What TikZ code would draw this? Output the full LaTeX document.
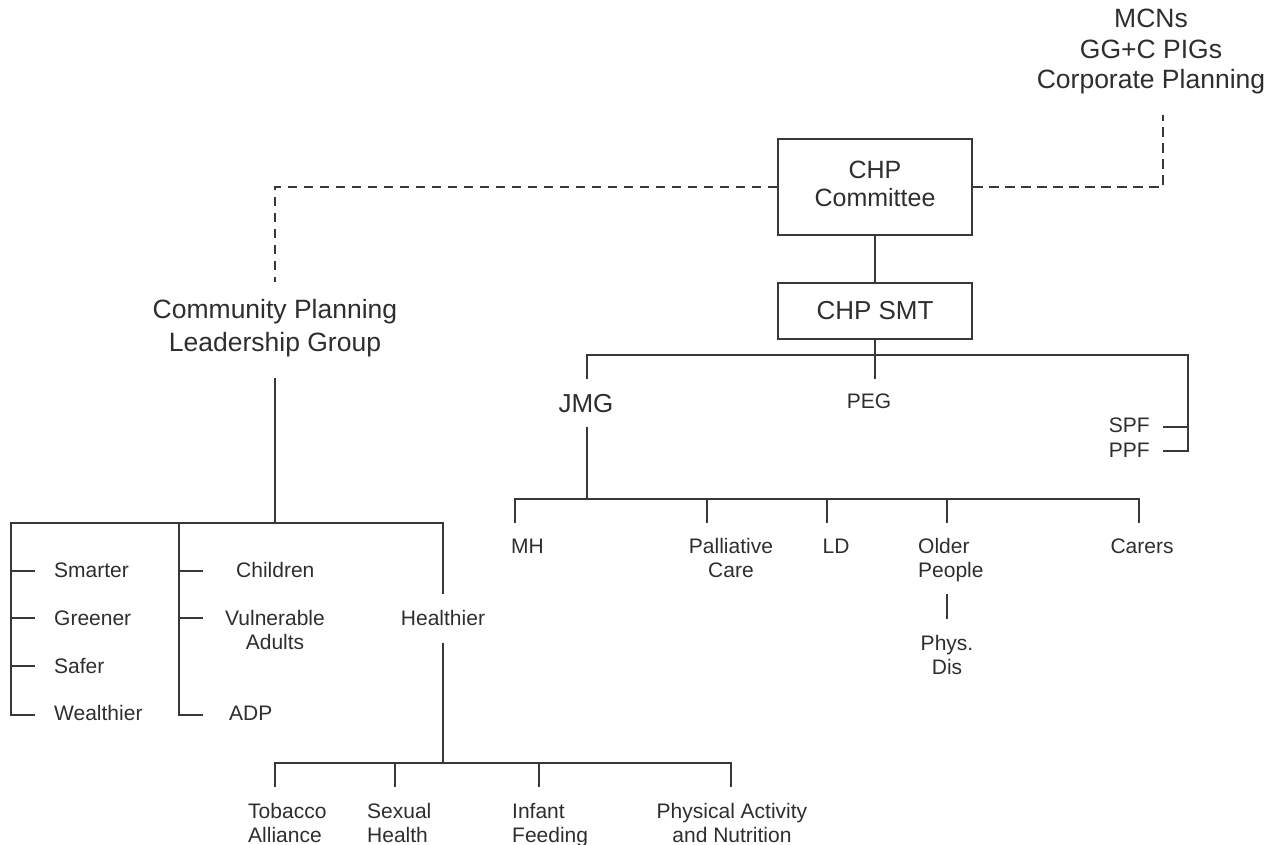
\documentclass[tikz,border=0pt]{standalone}
\usepackage{fontspec}
\setmainfont{Liberation Sans}
\definecolor{lc}{HTML}{383838}
\definecolor{tc}{HTML}{2E2E2E}
\newcommand{\mlc}[1]{\begin{tabular}[t]{@{}c@{}}#1\end{tabular}}
\newcommand{\mll}[1]{\begin{tabular}[t]{@{}l@{}}#1\end{tabular}}
\tikzset{
  ln/.style={draw=lc, line width=2pt},
  dsh/.style={draw=lc, line width=2pt, dash pattern=on 9.5pt off 6.5pt},
  big/.style={font=\fontsize{26.5}{30.5}\selectfont, text=tc, inner sep=0pt},
  sm/.style={font=\fontsize{21}{24}\selectfont, text=tc, inner sep=0pt},
  orgbox/.style={draw=lc, line width=2pt, text=tc, inner sep=0pt, minimum width=194pt}
}
\begin{document}
\begin{tikzpicture}[x=1pt,y=-1pt]
\useasboundingbox (0,0) rectangle (1283,845);

% boxes
\node[orgbox, minimum height=96pt, font=\fontsize{25}{28}\selectfont] (cttee) at (875,187) {\mlc{CHP\\Committee}};
\node[orgbox, minimum height=56pt, font=\fontsize{26}{30}\selectfont] (smt) at (875,311) {CHP SMT};

% big labels
\node[big, anchor=base] (mcn) at (1151,28) {\mlc{MCNs\\GG+C PIGs\\Corporate Planning}};
\node[big, anchor=base, font=\fontsize{26.5}{33.5}\selectfont] (cplg) at (275,318.3) {\mlc{Community Planning\\Leadership Group}};
\node[big, anchor=base, font=\fontsize{26}{30}\selectfont] (jmg) at (586,412.7) {JMG};

% right branch labels
\node[sm, anchor=base] (peg) at (869,408) {PEG};
\node[sm, anchor=base east] (spf) at (1150,432) {SPF};
\node[sm, anchor=base east] (ppf) at (1150,457) {PPF};
\node[sm, anchor=base west] (mh) at (511,553) {MH};
\node[sm, anchor=base] (pall) at (731,553) {\mlc{Palliative\\Care}};
\node[sm, anchor=base] (ld) at (836,553) {LD};
\node[sm, anchor=base west] (older) at (918,553) {\mll{Older\\People}};
\node[sm, anchor=base] (carers) at (1142,553) {Carers};
\node[sm, anchor=base] (phys) at (947,650) {\mlc{Phys.\\Dis}};

% left branch labels
\node[sm, anchor=base west] (smarter) at (54,577) {Smarter};
\node[sm, anchor=base west] (greener) at (54,625) {Greener};
\node[sm, anchor=base west] (safer) at (54,673) {Safer};
\node[sm, anchor=base west] (wealthier) at (54,720) {Wealthier};
\node[sm, anchor=base west] (children) at (236,577) {Children};
\node[sm, anchor=base] (vuln) at (275,625) {\mlc{Vulnerable\\Adults}};
\node[sm, anchor=base west] (adp) at (229,720) {ADP};
\node[sm, anchor=base] (healthier) at (443,625) {Healthier};
\node[sm, anchor=base west] (tobacco) at (248,818) {\mll{Tobacco\\Alliance}};
\node[sm, anchor=base west] (sexual) at (367,818) {\mll{Sexual\\Health}};
\node[sm, anchor=base west] (infant) at (512,818) {\mll{Infant\\Feeding}};
\node[sm, anchor=base] (pan) at (732,818) {\mlc{Physical Activity\\and Nutrition}};

% coordinates
\coordinate (cplgT) at (275,282);
\coordinate (mcnB) at (1163,115);
\coordinate (smtbus) at (875,355);
\coordinate (busL) at (587,355);
\coordinate (busR) at (1188,355);
\coordinate (jmgT) at (587,379);
\coordinate (pegT) at (875,379);
\coordinate (spfL) at (1163,427);
\coordinate (spfJ) at (1188,427);
\coordinate (ppfL) at (1163,451);
\coordinate (jmgB) at (587,427);
\coordinate (jmgJ) at (587,499);
\coordinate (mhJ) at (515,499);
\coordinate (mhT) at (515,523);
\coordinate (carJ) at (1139,499);
\coordinate (carT) at (1139,523);
\coordinate (palJ) at (707,499);
\coordinate (palT) at (707,523);
\coordinate (ldJ) at (827,499);
\coordinate (ldT) at (827,523);
\coordinate (oldJ) at (947,499);
\coordinate (oldT) at (947,523);
\coordinate (physT) at (947,594);
\coordinate (physB) at (947,619);
\coordinate (cplgB) at (275,378);
\coordinate (cplgJ) at (275,523);
\coordinate (lA) at (11,523);
\coordinate (lB) at (179,523);
\coordinate (lC) at (443,523);
\coordinate (hT) at (443,594);
\coordinate (hB) at (443,643);
\coordinate (hJ) at (443,763);
\coordinate (tobJ) at (275,763);
\coordinate (tobT) at (275,787);
\coordinate (sexJ) at (395,763);
\coordinate (sexT) at (395,787);
\coordinate (infJ) at (539,763);
\coordinate (infT) at (539,787);
\coordinate (panJ) at (731,763);
\coordinate (panT) at (731,787);

% dashed links
\draw[dsh] (cttee.west) -| (cplgT);
\draw[dsh] (cttee.east) -| (mcnB);

% CHP tree
\draw[ln] (cttee.south) -- (smt.north);
\draw[ln] (smt.south) -- (smtbus);
\draw[ln] (jmgT) -- (busL) -- (busR) |- (ppfL);
\draw[ln] (spfL) -- (spfJ);
\draw[ln] (smtbus) -- (pegT);
\draw[ln] (jmgB) -- (jmgJ);
\draw[ln] (mhT) -- (mhJ) -- (carJ) -- (carT);
\draw[ln] (palJ) -- (palT);
\draw[ln] (ldJ) -- (ldT);
\draw[ln] (oldJ) -- (oldT);
\draw[ln] (physT) -- (physB);

% Community planning tree
\draw[ln] (cplgB) -- (cplgJ);
\draw[ln] (35,715) coordinate (wT) -- (11,715) -- (lA) -- (lC) -- (hT);
\draw[ln] (11,571) -- (35,571) coordinate (smT);
\draw[ln] (11,618) -- (35,618) coordinate (grT);
\draw[ln] (11,666) -- (35,666) coordinate (saT);
\draw[ln] (203,715) coordinate (adT) -- (179,715) -- (lB);
\draw[ln] (179,571) -- (203,571) coordinate (chT);
\draw[ln] (179,618) -- (203,618) coordinate (vuT);
\draw[ln] (hB) -- (hJ);
\draw[ln] (tobT) -- (tobJ) -- (panJ) -- (panT);
\draw[ln] (sexJ) -- (sexT);
\draw[ln] (infJ) -- (infT);
\end{tikzpicture}
\end{document}
